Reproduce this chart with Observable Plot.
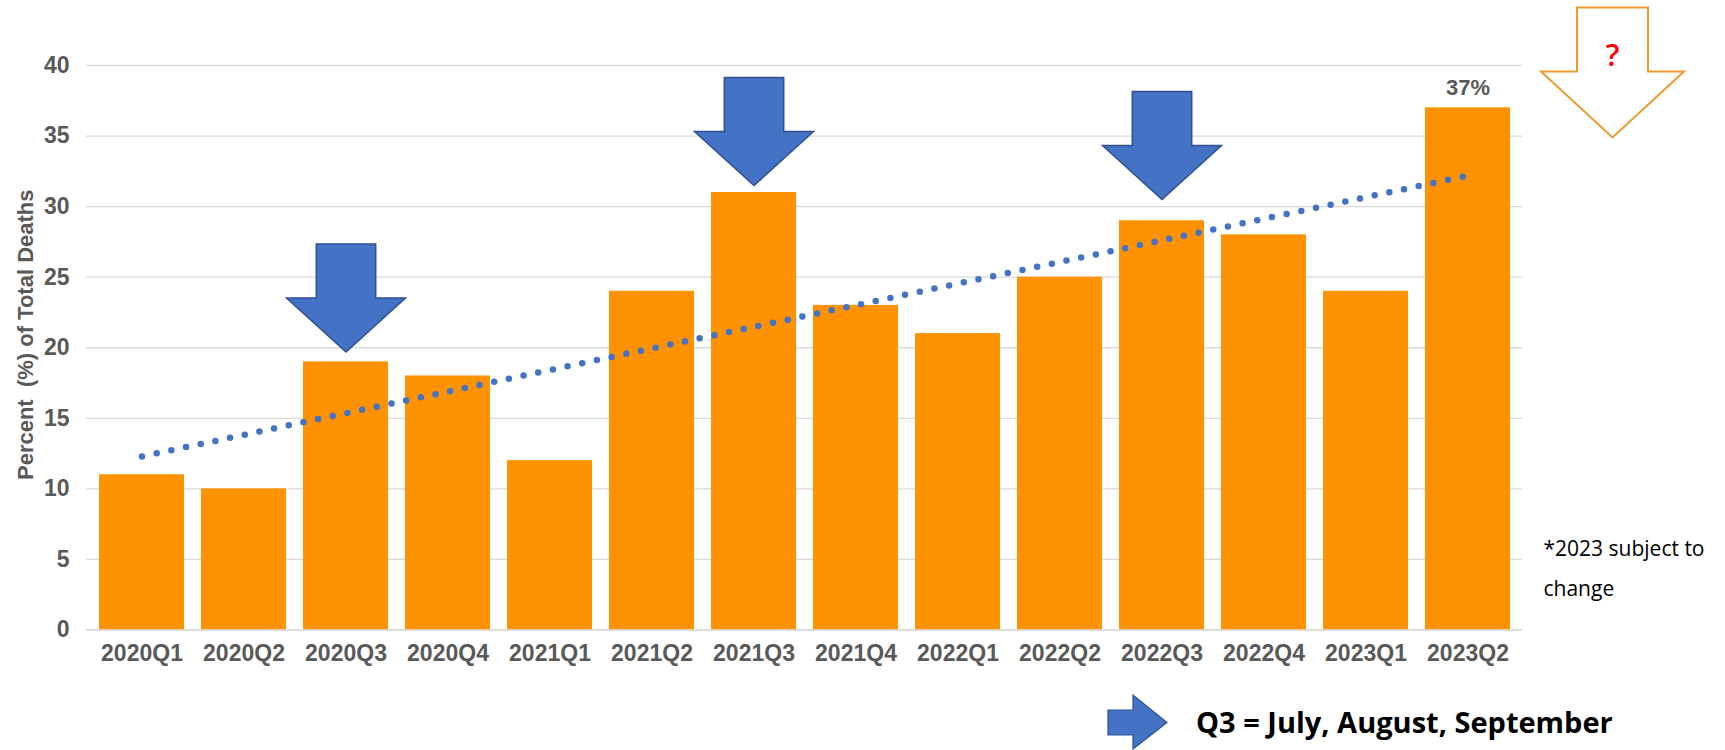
<!DOCTYPE html>
<html>
<head>
<meta charset="utf-8">
<script src="https://cdn.jsdelivr.net/npm/d3@7"></script>
<script src="https://cdn.jsdelivr.net/npm/@observablehq/plot@0.6"></script>
<style>
  body { margin: 0; background: #fff; }
  #wrap { position: relative; width: 1725px; height: 750px; overflow: hidden; }
  #chart svg text { white-space: pre; }
  #legend { position: absolute; left: 0; top: 690px; width: 1725px; height: 60px; }
  #legend .txt { position: absolute; left: 1196px; top: 12px; line-height: 40px; font-family: "Open Sans", sans-serif; font-weight: 700; font-size: 29px; color: #000; white-space: nowrap; }
</style>
</head>
<body>
<div id="wrap">
  <div id="chart"></div>
  <div id="legend"></div>
</div>
<script>
// ---- data ----
const quarters = ["2020Q1","2020Q2","2020Q3","2020Q4","2021Q1","2021Q2","2021Q3","2021Q4","2022Q1","2022Q2","2022Q3","2022Q4","2023Q1","2023Q2"];
const percents = [11, 10, 19, 18, 12, 24, 31, 23, 21, 25, 29, 28, 24, 37];
const yTicks = [0, 5, 10, 15, 20, 25, 30, 35, 40];
const q3Quarters = ["2020Q3", "2021Q3", "2022Q3"];
const q3ArrowTips = [19.7, 31.5, 30.5];
const trendQuarters = ["2020Q1", "2023Q2"];
const trendValues = [12.3, 32.2];
const labelledQuarter = "2023Q2";
const yLabel = "Percent  (%) of Total Deaths";
const footnote = "*2023 subject to\nchange";
const questionMark = "?";
const legendText = "Q3 = July, August, September";

// ---- build tables ----
const data = quarters.map((q, i) => ({quarter: q, value: percents[i]}));
const arrows = q3Quarters.map((q, i) => ({quarter: q, tip: q3ArrowTips[i]}));
const trend = trendQuarters.map((q, i) => ({quarter: q, value: trendValues[i]}));

// down-arrow symbol, tip at the anchor point
function downArrow(shaftHalf, headHalf, headH, shaftH) {
  return {
    draw(ctx) {
      const top = -(headH + shaftH);
      ctx.moveTo(-shaftHalf, top);
      ctx.lineTo(shaftHalf, top);
      ctx.lineTo(shaftHalf, -headH);
      ctx.lineTo(headHalf, -headH);
      ctx.lineTo(0, 0);
      ctx.lineTo(-headHalf, -headH);
      ctx.lineTo(-shaftHalf, -headH);
      ctx.closePath();
    }
  };
}

const sans = '"Liberation Sans", Arial, sans-serif';
const grey = "#595959";

const chart = Plot.plot({
  width: 1725,
  height: 690,
  marginTop: 65,
  marginBottom: 60.5,
  marginLeft: 86,
  marginRight: 203,
  style: {fontFamily: sans, background: "#fff", overflow: "visible"},
  x: {type: "band", domain: quarters, paddingInner: 0.17, paddingOuter: 0.1},
  y: {domain: [0, 40]},
  marks: [
    Plot.gridY(yTicks, {stroke: "#d9d9d9", strokeOpacity: 1, strokeWidth: 1.3}),
    Plot.axisY(yTicks, {tickSize: 0, tickPadding: 17, fontSize: 23, fontWeight: "bold", fill: grey, label: null}),
    Plot.axisX({tickSize: 0, tickPadding: 15, fontSize: 23, fontWeight: "bold", fill: grey, label: null}),
    Plot.barY(data, {x: "quarter", y: "value", fill: "#FF9200"}),
    Plot.ruleY([0], {stroke: "#d9d9d9", strokeWidth: 1.5}),
    Plot.line(trend, {x: "quarter", y: "value", stroke: "#4472C4", strokeWidth: 6.5, strokeDasharray: "0,15", strokeLinecap: "round"}),
    Plot.dot(arrows, {x: "quarter", y: "tip", r: 5, symbol: downArrow(29.7, 59.5, 54, 54), fill: "#4472C4", stroke: "#2F528F", strokeWidth: 1.5}),
    Plot.text(data.filter(d => d.quarter === labelledQuarter), {x: "quarter", y: "value", text: d => `${d.value}%`, dy: -13, lineAnchor: "bottom", fontSize: 22, fontWeight: "bold", fill: grey}),
    Plot.dot([0], {frameAnchor: "top-right", dx: 90, dy: 72, r: 5, symbol: downArrow(35.5, 71.5, 66, 64), fill: "white", stroke: "#EE9A30", strokeWidth: 2}),
    Plot.text([questionMark], {frameAnchor: "top-right", dx: 90, dy: -9, textAnchor: "middle", lineAnchor: "middle", fontSize: 30, fontWeight: 600, fill: "#ff0000", fontFamily: '"Open Sans", sans-serif'}),
    Plot.text([footnote], {frameAnchor: "bottom-right", dx: 21, dy: -34.5, textAnchor: "start", lineAnchor: "bottom", lineHeight: 1.905, fontSize: 21, fill: "#000", fontFamily: '"Open Sans", sans-serif'}),
    Plot.text([yLabel], {frameAnchor: "left", rotate: -90, dx: -61, dy: -13, textAnchor: "middle", lineAnchor: "middle", fontSize: 22, fontWeight: "bold", fill: grey})
  ]
});
document.getElementById("chart").appendChild(chart);

// ---- legend below the chart ----
const legend = document.getElementById("legend");
legend.innerHTML =
  `<svg width="1725" height="60" style="position:absolute;left:0;top:0">
     <path d="M1108,20 L1133,20 L1133,5 L1167,32.5 L1133,59 L1133,45 L1108,45 Z" fill="#4472C4" stroke="#2F528F" stroke-width="1.2"/>
   </svg>`;
const t = document.createElement("div");
t.className = "txt";
t.textContent = legendText;
legend.appendChild(t);
</script>
</body>
</html>
